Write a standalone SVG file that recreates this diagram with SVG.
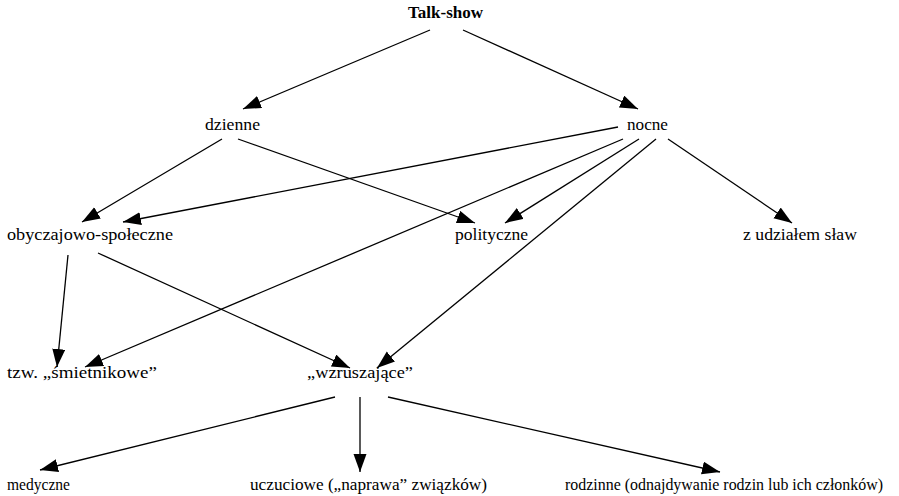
<svg xmlns="http://www.w3.org/2000/svg" width="899" height="496" viewBox="0 0 899 496">
<defs>
<marker id="ah" markerUnits="userSpaceOnUse" markerWidth="20" markerHeight="14" refX="18" refY="6.5" orient="auto">
<path d="M0,0 L18,6.5 L0,13 z" fill="#000"/>
</marker>
<style>
text{font-family:"Liberation Serif","Times New Roman",serif;font-size:17.5px;fill:#000}
.b{font-weight:bold;font-size:17px}
.s{font-size:16px}
#edges line{stroke:#000;stroke-width:1.3;marker-end:url(#ah)}
</style>
</defs>
<rect width="899" height="496" fill="#fff"/>
<g id="edges">
<line x1="430" y1="30" x2="243" y2="109"/>
<line x1="463" y1="30" x2="638" y2="109"/>
<line x1="222" y1="139" x2="82" y2="222"/>
<line x1="238" y1="139" x2="475" y2="223"/>
<line x1="618" y1="127" x2="123" y2="222"/>
<line x1="623" y1="139" x2="85" y2="367"/>
<line x1="639" y1="139" x2="505" y2="223"/>
<line x1="656" y1="139" x2="377" y2="368"/>
<line x1="668" y1="139" x2="792" y2="223"/>
<line x1="68" y1="255" x2="57" y2="367"/>
<line x1="98" y1="253" x2="350" y2="368"/>
<line x1="335" y1="397" x2="40" y2="470"/>
<line x1="360" y1="397" x2="360" y2="472"/>
<line x1="388" y1="397" x2="720" y2="472"/>
</g>
<g id="talkshow"><text class="b" x="408" y="18" textLength="75" lengthAdjust="spacingAndGlyphs">Talk-show</text></g>
<g id="dzienne"><text x="205" y="130" textLength="55" lengthAdjust="spacingAndGlyphs">dzienne</text></g>
<g id="nocne"><text x="627" y="130" textLength="41" lengthAdjust="spacingAndGlyphs">nocne</text></g>
<g id="obyczajowo"><text x="7" y="240" textLength="166" lengthAdjust="spacingAndGlyphs">obyczajowo-społeczne</text></g>
<g id="polityczne"><text x="455" y="240" textLength="73" lengthAdjust="spacingAndGlyphs">polityczne</text></g>
<g id="slaw"><text x="743" y="240" textLength="114" lengthAdjust="spacingAndGlyphs">z udziałem sław</text></g>
<g id="smietnikowe"><text x="7" y="378" textLength="150" lengthAdjust="spacingAndGlyphs">tzw. „śmietnikowe”</text></g>
<g id="wzruszajace"><text x="307" y="378" textLength="106" lengthAdjust="spacingAndGlyphs">„wzruszające”</text></g>
<g id="medyczne"><text class="s" x="7" y="490" textLength="63" lengthAdjust="spacingAndGlyphs">medyczne</text></g>
<g id="uczuciowe"><text class="s" x="250" y="490" textLength="237" lengthAdjust="spacingAndGlyphs">uczuciowe („naprawa” związków)</text></g>
<g id="rodzinne"><text class="s" x="565" y="490" textLength="318" lengthAdjust="spacingAndGlyphs">rodzinne (odnajdywanie rodzin lub ich członków)</text></g>
</svg>
